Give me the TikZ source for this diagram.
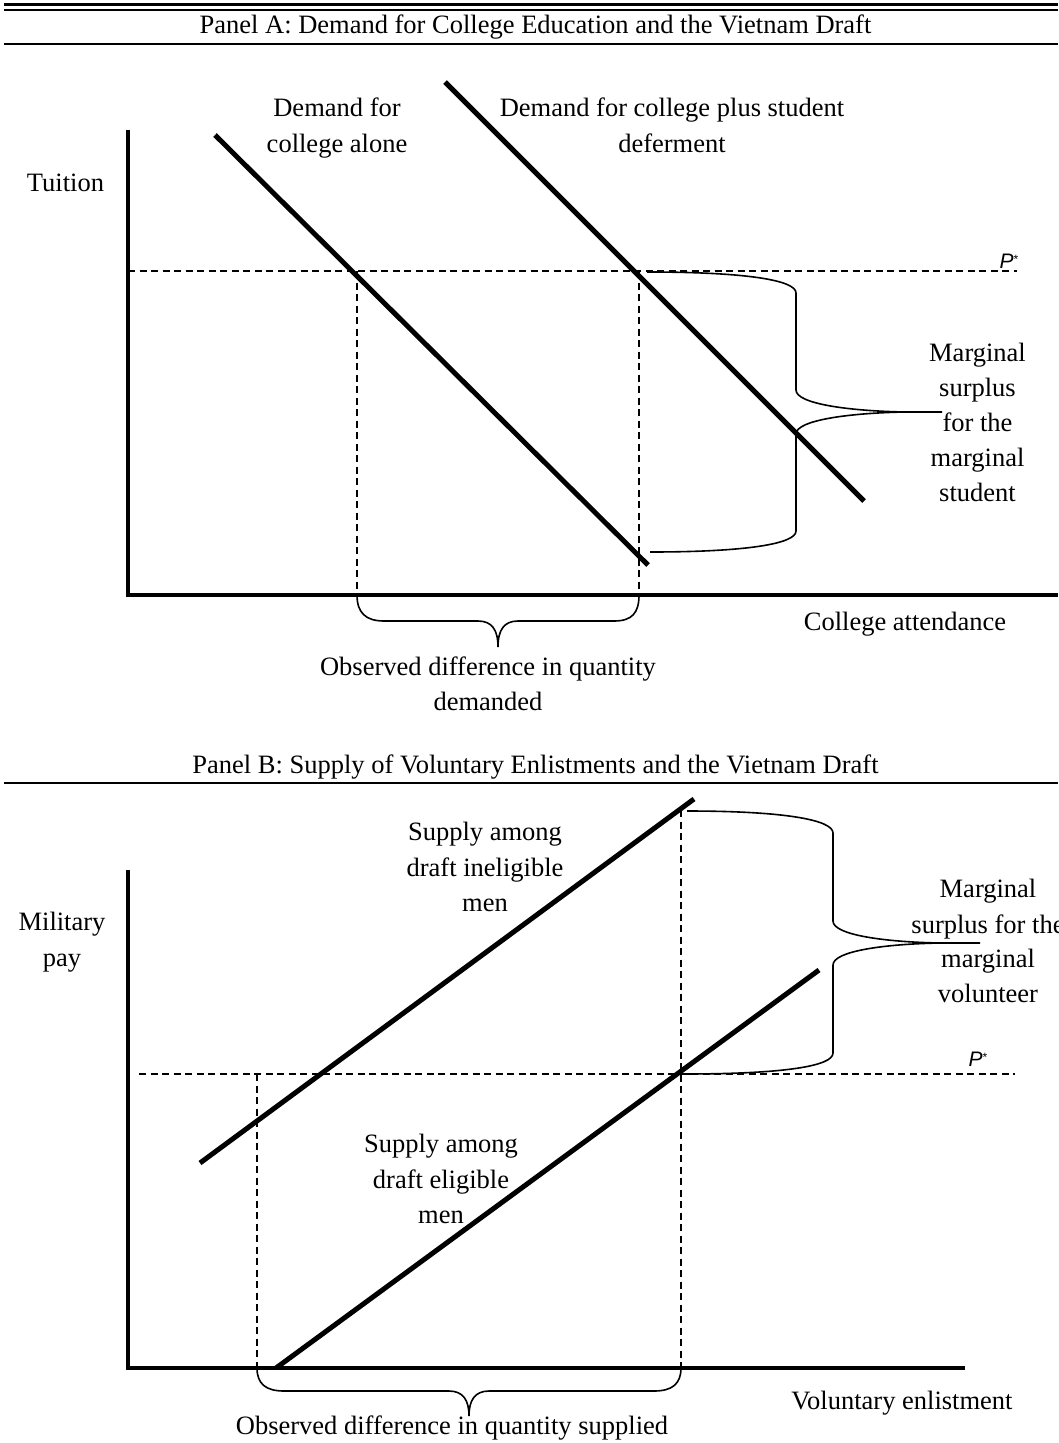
\documentclass[tikz,border=0pt]{standalone}
\usepackage{fontspec}
\setmainfont{Liberation Serif}
\newfontfamily\pfont{Liberation Sans}
\begin{document}
\begin{tikzpicture}[x=1pt,y=-1pt,
  txt/.style={anchor=base,inner sep=0pt,font=\fontsize{26.5}{35}\selectfont},
  pstar/.style={anchor=base,inner sep=0pt,font=\pfont\fontsize{21}{22}\selectfont},
  axisline/.style={line width=4pt},
  curveline/.style={line width=5pt},
  guide/.style={line width=1.3pt,dash pattern=on 7pt off 4.5pt},
  bracepath/.style={line width=1.6pt},
  rule/.style={line width=2.4pt}]
\useasboundingbox (0,0) rectangle (1058,1443);

% ---------- top rules ----------
\draw[line width=2.6pt] (4,4.5) -- (1058,4.5);
\draw[line width=2pt] (4,9.5) -- (1058,9.5);
\node[txt] (titleA) at (535.5,33) {Panel A: Demand for College Education and the Vietnam Draft};
\draw[rule] (4,44) -- (1058,44);

% ---------- Panel A ----------
\coordinate (oA) at (128,595);
\coordinate (yA) at (128,130);
\coordinate (xA) at (1058,595);
\draw[axisline] (yA) -- (oA) -- (xA);

\coordinate (pAl) at (128,271);
\coordinate (pAr) at (1017,271);
\draw[guide] (pAl) -- (pAr);
\coordinate (qA1t) at (357,271);
\coordinate (qA1b) at (357,595);
\coordinate (qA2t) at (639,271);
\coordinate (qA2b) at (639,595);
\draw[guide] (qA1t) -- (qA1b);
\draw[guide] (qA2t) -- (qA2b);

\coordinate (d1s) at (215,135);
\coordinate (d1e) at (648,565);
\coordinate (d2s) at (445,82);
\coordinate (d2e) at (864,501);
\draw[curveline] (d1s) -- (d1e);
\draw[curveline] (d2s) -- (d2e);

% right brace A
\draw[bracepath] (647,272) .. controls (745,272) and (796,280) .. (796,293)
  -- (796,390) .. controls (796,404) and (850,411) .. (905,412) -- (942,412);
\draw[bracepath] (905,412) .. controls (850,413) and (796,420) .. (796,434)
  -- (796,531) .. controls (796,544) and (745,552) .. (650,552);

% bottom brace A
\draw[bracepath] (357,595) .. controls (357,613) and (366,621) .. (384,621)
  -- (478,621) .. controls (492,621) and (498,630) .. (498,647)
  .. controls (498,630) and (504,621) .. (518,621)
  -- (614,621) .. controls (632,621) and (639,613) .. (639,595);

\node[txt] (tuition) at (65.5,191) {Tuition};
\node[txt] (dA1a) at (337,116) {Demand for};
\node[txt] (dA1b) at (337,152) {college alone};
\node[txt] (dA2a) at (672,116) {Demand for college plus student};
\node[txt] (dA2b) at (672,152) {deferment};
\node[pstar] (pA) at (1009,268) {\textit{P}\raisebox{5pt}{\fontsize{12}{12}\selectfont *}};
\node[txt] (mA1) at (977.5,361) {Marginal};
\node[txt] (mA2) at (977.5,396) {surplus};
\node[txt] (mA3) at (977.5,431) {for the};
\node[txt] (mA4) at (977.5,466) {marginal};
\node[txt] (mA5) at (977.5,501) {student};
\node[txt] (xlabA) at (905,630) {College attendance};
\node[txt] (obsA1) at (488,675) {Observed difference in quantity};
\node[txt] (obsA2) at (488,710) {demanded};

% ---------- Panel B ----------
\node[txt] (titleB) at (535.5,773) {Panel B: Supply of Voluntary Enlistments and the Vietnam Draft};
\draw[rule] (4,783) -- (1058,783);

\coordinate (oB) at (128,1368);
\coordinate (yB) at (128,870);
\coordinate (xB) at (965,1368);
\draw[axisline] (yB) -- (oB) -- (xB);

\coordinate (pBl) at (139,1074);
\coordinate (pBr) at (1015,1074);
\draw[guide] (pBl) -- (pBr);
\coordinate (qB1t) at (257,1074);
\coordinate (qB1b) at (257,1368);
\coordinate (qB2t) at (681,810);
\coordinate (qB2b) at (681,1368);
\draw[guide] (qB1t) -- (qB1b);
\draw[guide] (qB2t) -- (qB2b);

\coordinate (s1s) at (200,1163);
\coordinate (s1e) at (694,799);
\coordinate (s2s) at (276,1368);
\coordinate (s2e) at (819,970);
\draw[curveline] (s1s) -- (s1e);
\draw[curveline] (s2s) -- (s2e);

% right brace B
\draw[bracepath] (687,811) .. controls (785,811) and (833,820) .. (833,833)
  -- (833,921) .. controls (833,935) and (885,942) .. (940,943) -- (980,943);
\draw[bracepath] (940,943) .. controls (885,944) and (833,951) .. (833,965)
  -- (833,1053) .. controls (833,1066) and (785,1074) .. (683,1074);

% bottom brace B
\draw[bracepath] (257,1368) .. controls (257,1384) and (266,1391) .. (284,1391)
  -- (449,1391) .. controls (463,1391) and (469,1400) .. (469,1416)
  .. controls (469,1400) and (475,1391) .. (489,1391)
  -- (654,1391) .. controls (672,1391) and (681,1384) .. (681,1368);

\node[txt] (milA) at (62,930) {Military};
\node[txt] (milB) at (62,966) {pay};
\node[txt] (sB1a) at (485,840) {Supply among};
\node[txt] (sB1b) at (485,876) {draft ineligible};
\node[txt] (sB1c) at (485,911) {men};
\node[txt] (sB2a) at (441,1152) {Supply among};
\node[txt] (sB2b) at (441,1188) {draft eligible};
\node[txt] (sB2c) at (441,1223) {men};
\node[txt] (mB1) at (988,897) {Marginal};
\node[txt] (mB2) at (988,933) {surplus for the};
\node[txt] (mB3) at (988,967) {marginal};
\node[txt] (mB4) at (988,1002) {volunteer};
\node[pstar] (pB) at (978,1066) {\textit{P}\raisebox{5pt}{\fontsize{12}{12}\selectfont *}};
\node[txt] (xlabB) at (902,1409) {Voluntary enlistment};
\node[txt] (obsB) at (452,1434) {Observed difference in quantity supplied};
\end{tikzpicture}
\end{document}
